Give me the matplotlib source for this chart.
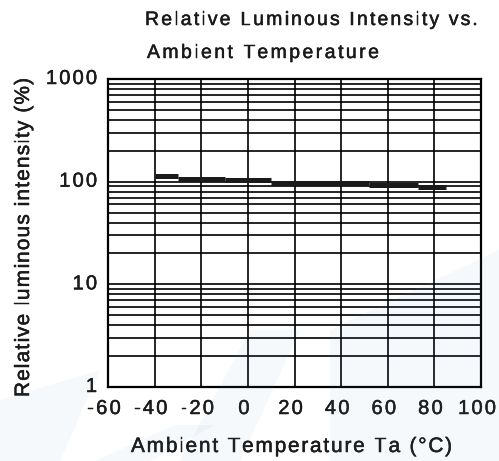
import numpy as np
import matplotlib.pyplot as plt
import matplotlib.patheffects as pe
from matplotlib.patches import Polygon

plt.rcParams['font.family'] = ['Liberation Sans', 'DejaVu Sans']

# step curve: (start temp, end temp, relative intensity %)
seg_start = [-40, -30, -10, 10, 52, 73]
seg_end = [-30, -10, 10, 52, 73, 85]
seg_value = [114, 107, 104, 97, 92, 88]

x_ticks = [-60, -40, -20, 0, 20, 40, 60, 80, 100]
y_ticks = [1, 10, 100, 1000]

title1 = 'Relative Luminous Intensity vs.'
title2 = 'Ambient Temperature'
xlab = 'Ambient Temperature Ta (°C)'
ylab = 'Relative luminous intensity (%)'

W, H = 499, 461
TXT = '#1a1a1a'
fig = plt.figure(figsize=(W / 100, H / 100), dpi=100)
ax = fig.add_axes([108 / W, 1 - 387 / H, (481 - 108) / W, (387 - 79) / H])

ax.set_yscale('log')
ax.set_xlim(-60, 100)
ax.set_ylim(1, 1000)
ax.set_xticks(x_ticks)
ax.set_yticks(y_ticks)
ax.tick_params(axis='both', which='both', length=0, labelbottom=False, labelleft=False)

ax.grid(True, which='both', axis='y', color='black', lw=1.2)
ax.grid(True, which='major', axis='x', color='black', lw=1.2)
for s in ax.spines.values():
    s.set_linewidth(1.6)
    s.set_color('black')

for a, b, v in zip(seg_start, seg_end, seg_value):
    ax.plot([a, b], [v, v], color='#1a1a1a', lw=3.6, solid_capstyle='butt', zorder=5)

# the original text has wide letter spacing, so place it char by char
renderer = fig.canvas.get_renderer()
soft = [pe.withStroke(linewidth=0.35, foreground=TXT)]


def tracked(x, y, s, size, width=None, extra=0.0, ha='left', rot=0):
    texts, adv = [], []
    for c in s:
        t = fig.text(0, 0, c, fontsize=size, color=TXT, ha='left', va='baseline',
                     path_effects=soft)
        if c == ' ':
            adv.append(0.278 * size * 100 / 72)
        else:
            adv.append(t.get_window_extent(renderer).width)
        texts.append(t)
    if width is not None and len(s) > 1:
        extra = (width - sum(adv)) / (len(s) - 1)
    total = sum(adv) + extra * (len(s) - 1)
    pos = -{'left': 0, 'center': total / 2, 'right': total}[ha]
    dx, dy = (0, 1) if rot == 90 else (1, 0)
    for t, a in zip(texts, adv):
        t.set_position(((x + pos * dx) / W, (y + pos * dy) / H))
        t.set_rotation(rot)
        t.set_rotation_mode('anchor')
        pos += a + extra


tracked(145, H - 25, title1, 14, width=333)
tracked(147, H - 58, title2, 14, width=232)
tracked(131, H - 452, xlab, 15, width=321)
tracked(29, H - 397, ylab, 15, width=319, rot=90)

# tick labels at positions from the axes transform
for t in x_ticks:
    px, _ = ax.transData.transform((t, 1))
    tracked(px - 4, H - 414, str(t), 14.5, extra=2.2, ha='center')
for t in y_ticks:
    _, py = ax.transData.transform((-60, t))
    tracked(97, py - 5, str(t), 14.5, extra=2.2, ha='right')

# faint watermark shapes
shapes = [
    [(0, 461), (0, 400), (100, 370), (60, 461)],
    [(95, 461), (175, 425), (215, 425), (150, 461)],
    [(180, 461), (250, 330), (300, 330), (240, 461)],
    [(330, 461), (330, 330), (499, 250), (499, 461)],
]
for pts in shapes:
    p = Polygon([(x / W, 1 - y / H) for x, y in pts], closed=True,
                transform=fig.transFigure, facecolor='#5b9bd5', alpha=0.06,
                edgecolor='none', zorder=20)
    fig.add_artist(p)

fig.savefig('out.png', dpi=100)
